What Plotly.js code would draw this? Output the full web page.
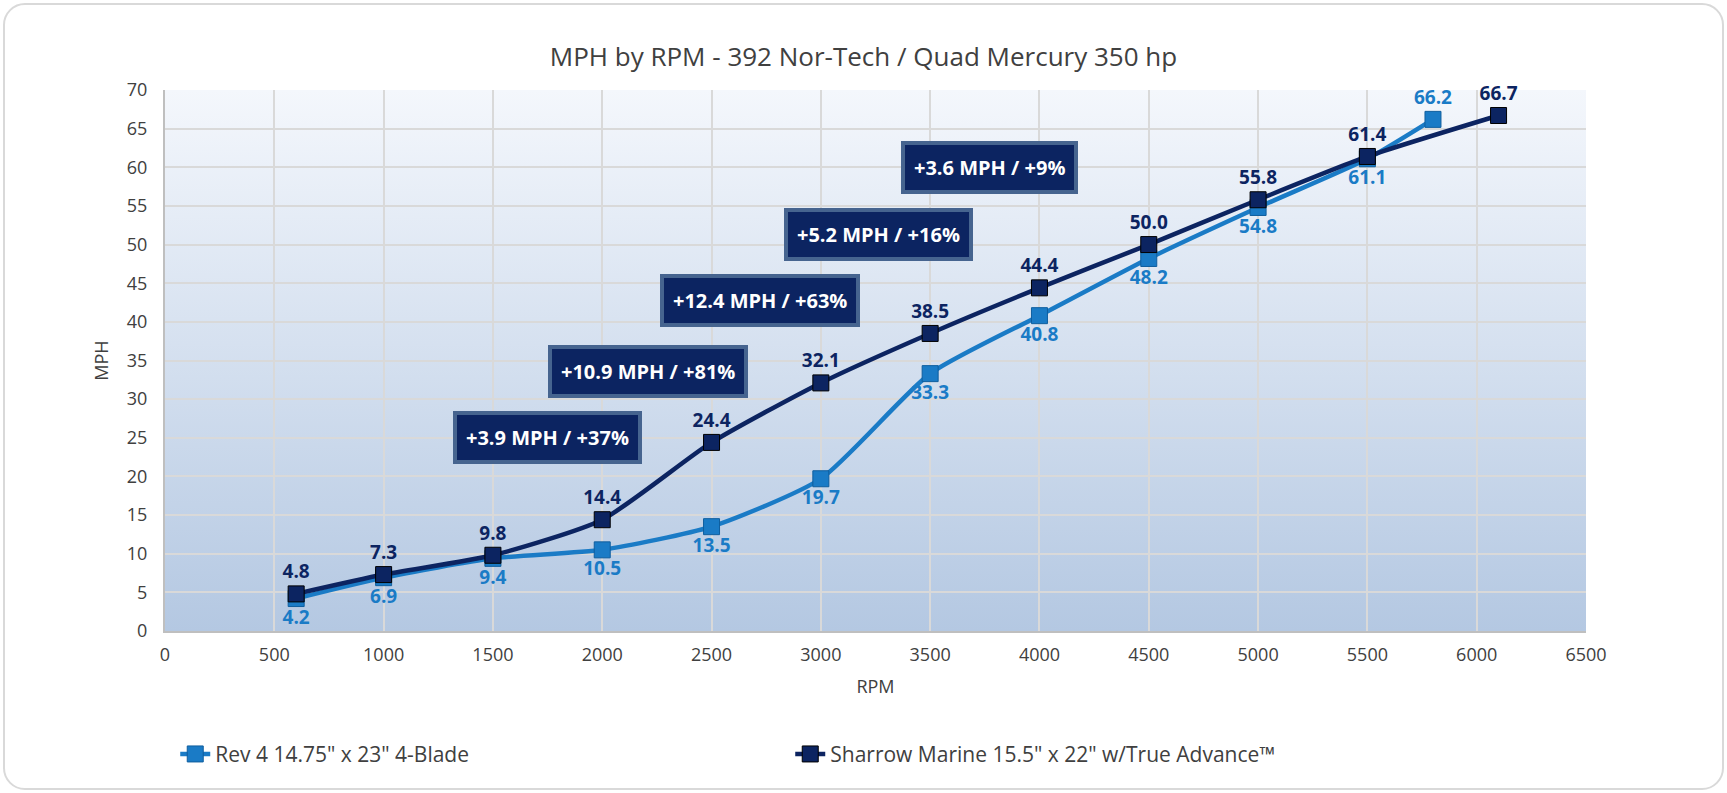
<!DOCTYPE html>
<html>
<head>
<meta charset="utf-8">
<script src="https://cdn.plot.ly/plotly-3.0.1.min.js"></script>
<style>
  body { margin: 0; background: #fff; }
  #wrap { position: relative; width: 1727px; height: 793px; }
  #frame { position: absolute; left: 3px; top: 3px; right: 3px; bottom: 3px;
           border: 2px solid #d9d9d9; border-radius: 22px; }
  #bg { position: absolute; left: 165px; top: 90px; width: 1421px; height: 541px;
        background: linear-gradient(#f4f7fc, #b4c8e2); }
  #chart { position: absolute; left: 0; top: 0; width: 1727px; height: 793px; }
</style>
</head>
<body>
<div id="wrap">
  <div id="frame"></div>
  <div id="bg"></div>
  <div id="chart"></div>
</div>
<script>
let rev_rpm = [600, 1000, 1500, 2000, 2500, 3000, 3500, 4000, 4500, 5000, 5500, 5800]
let rev_mph = [4.2, 6.9, 9.4, 10.5, 13.5, 19.7, 33.3, 40.8, 48.2, 54.8, 61.1, 66.2]
let sharrow_rpm = [600, 1000, 1500, 2000, 2500, 3000, 3500, 4000, 4500, 5000, 5500, 6100]
let sharrow_mph = [4.8, 7.3, 9.8, 14.4, 24.4, 32.1, 38.5, 44.4, 50.0, 55.8, 61.4, 66.7]

let callout_text = ["+3.9 MPH / +37%", "+10.9 MPH / +81%", "+12.4 MPH / +63%", "+5.2 MPH / +16%", "+3.6 MPH / +9%"]
let callout_rpm = [1750, 2210, 2720, 3265, 3770]
let callout_mph = [25, 33.6, 42.7, 51.3, 60]

let rev_color = "#1a7bc6"
let sharrow_color = "#0c2461"

let rev = {
  x: rev_rpm,
  y: rev_mph,
  name: 'Rev 4 14.75" x 23" 4-Blade',
  type: "scatter",
  mode: "lines+markers+text",
  line: { color: rev_color, width: 4.5, shape: "spline", smoothing: 0.6 },
  marker: { symbol: "square", size: 16, color: rev_color, line: { color: "#0f5e9e", width: 1 } },
  text: rev_mph.map(v => v.toFixed(1)),
  textposition: rev_mph.map((v, i) => i == rev_mph.length - 1 ? "top center" : "bottom center"),
  textfont: { family: "Open Sans", size: 19, color: rev_color, weight: "bold" },
  cliponaxis: false,
}

let sharrow = {
  x: sharrow_rpm,
  y: sharrow_mph,
  name: 'Sharrow Marine 15.5" x 22" w/True Advance™',
  type: "scatter",
  mode: "lines+markers+text",
  line: { color: sharrow_color, width: 4.5, shape: "spline", smoothing: 0.6 },
  marker: { symbol: "square", size: 16, color: sharrow_color, line: { color: "#000", width: 1 } },
  text: sharrow_mph.map(v => v.toFixed(1)),
  textposition: "top center",
  textfont: { family: "Open Sans", size: 19, color: sharrow_color, weight: "bold" },
  cliponaxis: false,
}

let annotations = callout_text.map((t, i) => ({
  x: callout_rpm[i], y: callout_mph[i], xref: "x", yref: "y",
  text: "<b>" + t + "</b>", showarrow: false,
  font: { family: "Open Sans", size: 20, color: "#fff" },
  bgcolor: "#0c2461", bordercolor: "#46648f", borderwidth: 4, borderpad: 9,
}))

let layout = {
  width: 1727, height: 793,
  margin: { l: 165, r: 141, t: 90, b: 162 },
  paper_bgcolor: "rgba(0,0,0,0)",
  plot_bgcolor: "rgba(0,0,0,0)",
  font: { family: "Open Sans", color: "#404040" },
  title: { text: "MPH by RPM - 392 Nor-Tech / Quad Mercury 350 hp", x: 0.5, y: 0.94,
           font: { size: 26, color: "#404040" } },
  xaxis: {
    range: [0, 6500], dtick: 500, showgrid: true, gridcolor: "#d9d9d9", gridwidth: 2,
    showline: true, linecolor: "#bfbfbf", linewidth: 2, zeroline: false,
    tickfont: { size: 18 }, ticklen: 6, tickcolor: "rgba(0,0,0,0)",
    title: { text: "RPM", font: { size: 18 }, standoff: 16 },
  },
  yaxis: {
    range: [0, 70], dtick: 5, showgrid: true, gridcolor: "#d9d9d9", gridwidth: 2,
    showline: true, linecolor: "#bfbfbf", linewidth: 2, zeroline: false,
    tickfont: { size: 18 }, ticklen: 12, tickcolor: "rgba(0,0,0,0)",
    title: { text: "MPH", font: { size: 18 }, standoff: 14 },
  },
  showlegend: true,
  legend: { orientation: "h", x: 0.44, xanchor: "center", y: -0.19, yanchor: "top",
            font: { size: 21, color: "#404040" }, entrywidth: 570 },
  annotations: annotations,
}

Plotly.newPlot("chart", [rev, sharrow], layout, { displaylogo: false, displayModeBar: false })
</script>
</body>
</html>
